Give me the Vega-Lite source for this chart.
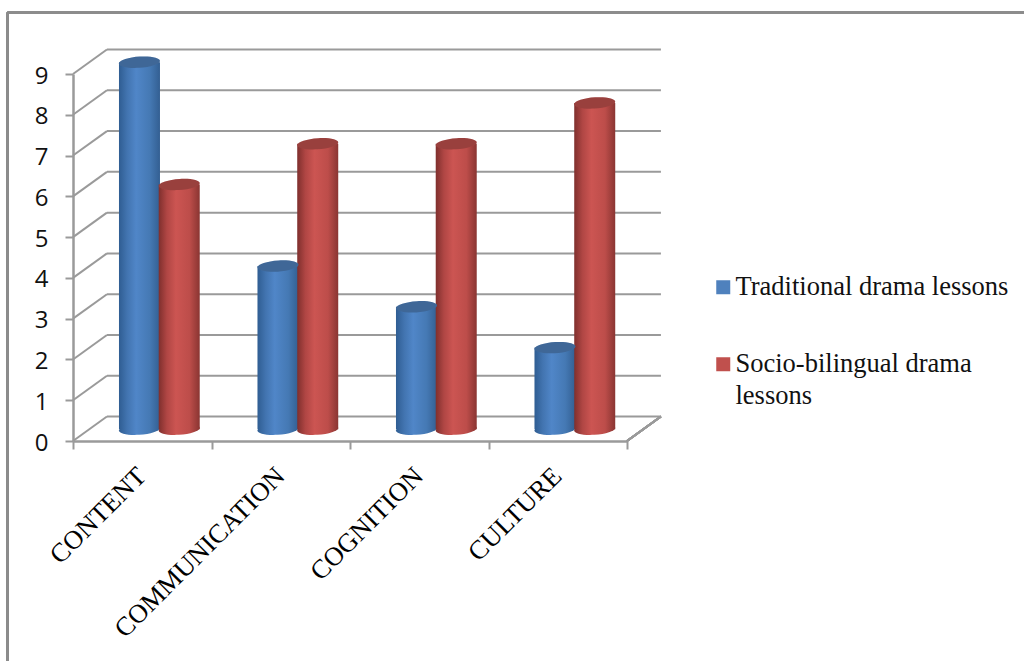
{
  "$schema": "https://vega.github.io/schema/vega-lite/v6.json",
  "autosize": {"type": "none"},
  "padding": {"left": 73, "top": 74, "right": 397, "bottom": 220},
  "width": 554,
  "height": 367,
  "background": "white",
  "config": {
    "view": {"stroke": null}
  },
  "datasets": {
    "scores": [
      {"category": "CONTENT", "series": "Traditional drama lessons", "value": 9},
      {"category": "CONTENT", "series": "Socio-bilingual drama lessons", "value": 6},
      {"category": "COMMUNICATION", "series": "Traditional drama lessons", "value": 4},
      {"category": "COMMUNICATION", "series": "Socio-bilingual drama lessons", "value": 7},
      {"category": "COGNITION", "series": "Traditional drama lessons", "value": 3},
      {"category": "COGNITION", "series": "Socio-bilingual drama lessons", "value": 7},
      {"category": "CULTURE", "series": "Traditional drama lessons", "value": 2},
      {"category": "CULTURE", "series": "Socio-bilingual drama lessons", "value": 8}
    ],
    "levels": [
      {"level": 0}, {"level": 1}, {"level": 2}, {"level": 3}, {"level": 4},
      {"level": 5}, {"level": 6}, {"level": 7}, {"level": 8}, {"level": 9}
    ]
  },
  "data": {"name": "scores"},
  "transform": [
    {"calculate": "indexof(['CONTENT','COMMUNICATION','COGNITION','CULTURE'], datum.category)", "as": "slot"},
    {"calculate": "datum.slot + (datum.series === 'Traditional drama lessons' ? 0.48 : 0.767)", "as": "center"},
    {"calculate": "datum.value + 0.29", "as": "top"},
    {"calculate": "0.29", "as": "floor"},
    {"calculate": "datum.slot + 0.54", "as": "labelX"},
    {"calculate": "-0.9", "as": "labelY"}
  ],
  "layer": [
    {
      "description": "Side wall diagonals from the value axis to the back wall; this layer carries both axes",
      "data": {"name": "levels"},
      "transform": [
        {"calculate": "datum.level + 0.6", "as": "wall"},
        {"calculate": "0", "as": "frontX"},
        {"calculate": "0.245", "as": "backX"}
      ],
      "mark": {"type": "rule", "stroke": "#9a9a9a", "strokeWidth": 2},
      "encoding": {
        "x": {"field": "frontX", "type": "quantitative", "title": null,
          "scale": {"domain": [0, 4], "nice": false, "zero": false, "padding": 0},
          "axis": {
            "values": [0, 1, 2, 3, 4], "labels": false, "tickSize": 8, "tickColor": "#9a9a9a", "tickWidth": 2,
            "domainColor": "#9a9a9a", "domainWidth": 2.5, "grid": false, "title": null
          }},
        "x2": {"field": "backX"},
        "y": {"field": "level", "type": "quantitative", "title": null,
          "scale": {"domain": [0, 9], "nice": false, "zero": false},
          "axis": {
            "values": [0, 1, 2, 3, 4, 5, 6, 7, 8, 9], "tickSize": 8, "tickColor": "#9a9a9a", "tickWidth": 2,
            "domainColor": "#9a9a9a", "domainWidth": 2.5, "grid": false, "title": null,
            "labelFont": "Open Sans", "labelFontSize": 24, "labelColor": "#111111", "labelPadding": 17, "labelBaseline": "middle", "labelOffset": 2
          }},
        "y2": {"field": "wall"}
      }
    },
    {
      "description": "Outer frame, top edge",
      "mark": {"type": "rule", "stroke": "#8c8c8c", "strokeWidth": 2},
      "encoding": {
        "x": {"datum": -0.473, "type": "quantitative", "title": null},
        "x2": {"datum": 6.87},
        "y": {"datum": 10.51, "type": "quantitative", "title": null}
      }
    },
    {
      "description": "Outer frame, left edge",
      "mark": {"type": "rule", "stroke": "#8c8c8c", "strokeWidth": 2},
      "encoding": {
        "x": {"datum": -0.473, "type": "quantitative", "title": null},
        "y": {"datum": 10.51, "type": "quantitative", "title": null},
        "y2": {"datum": -5.5}
      }
    },
    {
      "description": "Back wall gridlines",
      "data": {"name": "levels"},
      "transform": [
        {"calculate": "datum.level + 0.6", "as": "wall"},
        {"calculate": "0.245", "as": "backStart"},
        {"calculate": "4.245", "as": "backEnd"}
      ],
      "mark": {"type": "rule", "stroke": "#9a9a9a", "strokeWidth": 2},
      "encoding": {
        "x": {"field": "backStart", "type": "quantitative", "title": null},
        "x2": {"field": "backEnd"},
        "y": {"field": "wall", "type": "quantitative", "title": null}
      }
    },
    {
      "description": "Right edge of the floor",
      "mark": {"type": "rule", "stroke": "#9a9a9a", "strokeWidth": 2},
      "encoding": {
        "x": {"datum": 4, "type": "quantitative", "title": null},
        "x2": {"datum": 4.245},
        "y": {"datum": 0, "type": "quantitative", "title": null},
        "y2": {"datum": 0.6}
      }
    },
    {
      "description": "Blue cylinders: base and body",
      "transform": [{"filter": "datum.series === 'Traditional drama lessons'"}],
      "layer": [
        {
          "mark": {"type": "point", "filled": true, "opacity": 1, "size": 1681,
            "shape": "M-1,0.06A1,0.27,-4,1,1,1,-0.06A1,0.27,-4,1,1,-1,0.06Z",
            "fill": {"gradient": "linear", "x1": 0, "x2": 1, "y1": 0, "y2": 0, "stops": [
              {"offset": 0, "color": "#2f5d92"}, {"offset": 0.2, "color": "#4274b0"}, {"offset": 0.42, "color": "#5086c8"},
              {"offset": 0.75, "color": "#4579b4"}, {"offset": 1, "color": "#335f92"}]}},
          "encoding": {
            "x": {"field": "center", "type": "quantitative", "title": null},
            "y": {"field": "floor", "type": "quantitative", "title": null}
          }
        },
        {
          "mark": {"type": "bar", "orient": "vertical", "width": 41,
            "fill": {"gradient": "linear", "x1": 0, "x2": 1, "y1": 0, "y2": 0, "stops": [
              {"offset": 0, "color": "#2f5d92"}, {"offset": 0.2, "color": "#4274b0"}, {"offset": 0.42, "color": "#5086c8"},
              {"offset": 0.75, "color": "#4579b4"}, {"offset": 1, "color": "#335f92"}]}},
          "encoding": {
            "x": {"field": "center", "type": "quantitative", "title": null},
            "y": {"field": "top", "type": "quantitative", "title": null},
            "y2": {"field": "floor"}
          }
        }
      ]
    },
    {
      "description": "Red cylinders: base and body, drawn over the blue ones",
      "transform": [{"filter": "datum.series !== 'Traditional drama lessons'"}],
      "layer": [
        {
          "mark": {"type": "point", "filled": true, "opacity": 1, "size": 1681,
            "shape": "M-1,0.06A1,0.27,-4,1,1,1,-0.06A1,0.27,-4,1,1,-1,0.06Z",
            "fill": {"gradient": "linear", "x1": 0, "x2": 1, "y1": 0, "y2": 0, "stops": [
              {"offset": 0, "color": "#7f2f2d"}, {"offset": 0.2, "color": "#b04644"}, {"offset": 0.42, "color": "#cc5552"},
              {"offset": 0.75, "color": "#bd4d4a"}, {"offset": 1, "color": "#8a3532"}]}},
          "encoding": {
            "x": {"field": "center", "type": "quantitative", "title": null},
            "y": {"field": "floor", "type": "quantitative", "title": null}
          }
        },
        {
          "mark": {"type": "bar", "orient": "vertical", "width": 41,
            "fill": {"gradient": "linear", "x1": 0, "x2": 1, "y1": 0, "y2": 0, "stops": [
              {"offset": 0, "color": "#7f2f2d"}, {"offset": 0.2, "color": "#b04644"}, {"offset": 0.42, "color": "#cc5552"},
              {"offset": 0.75, "color": "#bd4d4a"}, {"offset": 1, "color": "#8a3532"}]}},
          "encoding": {
            "x": {"field": "center", "type": "quantitative", "title": null},
            "y": {"field": "top", "type": "quantitative", "title": null},
            "y2": {"field": "floor"}
          }
        }
      ]
    },
    {
      "description": "Cylinder caps in the series colour; this layer carries the legend",
      "mark": {"type": "point", "filled": true, "opacity": 1, "size": 1681,
        "shape": "M-1,0.06A1,0.27,-4,1,1,1,-0.06A1,0.27,-4,1,1,-1,0.06Z"},
      "encoding": {
        "x": {"field": "center", "type": "quantitative", "title": null},
        "y": {"field": "top", "type": "quantitative", "title": null},
        "color": {
          "field": "series", "type": "nominal",
          "scale": {"domain": ["Traditional drama lessons", "Socio-bilingual drama lessons"], "range": ["#4f81bd", "#c0504d"]},
          "legend": {
            "orient": "none", "legendX": 637, "legendY": 200, "title": null,
            "symbolType": "square", "symbolSize": 196, "symbolStrokeWidth": 0,
            "labelFont": "Liberation Serif", "labelFontSize": 26.5, "labelColor": "#111111", "labelLimit": 400,
            "labelOffset": -1, "rowPadding": 50,
            "encoding": {"labels": {"lineHeight": {"value": 32}}},
            "labelExpr": "datum.label === 'Socio-bilingual drama lessons' ? ['Socio-bilingual drama', 'lessons'] : datum.label"
          }
        }
      }
    },
    {
      "description": "Shade that darkens the caps",
      "mark": {"type": "point", "filled": true, "opacity": 0.2, "size": 1681, "color": "#000000",
        "shape": "M-1,0.06A1,0.27,-4,1,1,1,-0.06A1,0.27,-4,1,1,-1,0.06Z"},
      "encoding": {
        "x": {"field": "center", "type": "quantitative", "title": null},
        "y": {"field": "top", "type": "quantitative", "title": null}
      }
    },
    {
      "description": "Slanted category labels",
      "transform": [{"filter": "datum.series === 'Traditional drama lessons'"}],
      "mark": {"type": "text", "angle": 315, "align": "right", "baseline": "alphabetic",
        "font": "Liberation Serif", "fontSize": 26.5, "color": "#000000"},
      "encoding": {
        "x": {"field": "labelX", "type": "quantitative", "title": null},
        "y": {"field": "labelY", "type": "quantitative", "title": null},
        "text": {"field": "category"}
      }
    }
  ]
}
